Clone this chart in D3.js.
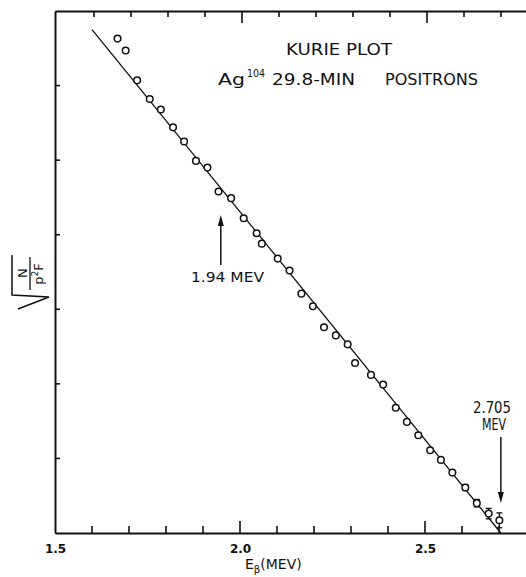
<!DOCTYPE html>
<html>
<head>
<meta charset="utf-8">
<script src="https://d3js.org/d3.v7.min.js"></script>
<style>
  body { margin: 0; background: #fff; }
  svg { display: block; }
  text { font-family: "DejaVu Sans", "Liberation Sans", sans-serif; fill: #111; }
  .frame path { stroke: #111; stroke-width: 2; }
  .frame line { stroke: #111; stroke-width: 1.6; }
  .frame text { font-size: 12px; font-weight: bold; }
  .pt { fill: #fff; stroke: #111; stroke-width: 1.5; }
</style>
</head>
<body>
<script>
// Kurie plot readings (E in MeV, sqrt(N/p^2F) in arbitrary units)
var energy = [1.669, 1.691, 1.722, 1.756, 1.786, 1.819, 1.849, 1.881, 1.912, 1.942,
              1.976, 2.010, 2.045, 2.059, 2.102, 2.134, 2.166, 2.197, 2.227, 2.259,
              2.291, 2.311, 2.354, 2.387, 2.421, 2.451, 2.482, 2.514, 2.543, 2.574,
              2.609, 2.640, 2.672, 2.701];
var kurie  = [6.63, 6.47, 6.07, 5.82, 5.68, 5.44, 5.25, 4.99, 4.90, 4.58,
              4.49, 4.22, 4.02, 3.88, 3.68, 3.52, 3.21, 3.04, 2.76, 2.65,
              2.53, 2.28, 2.12, 1.99, 1.68, 1.49, 1.31, 1.11, 0.98, 0.81,
              0.61, 0.40, 0.26, 0.17];
var errors = [0, 0, 0, 0, 0, 0, 0, 0, 0, 0,
              0, 0, 0, 0, 0, 0, 0, 0, 0, 0,
              0, 0, 0, 0, 0, 0, 0, 0, 0, 0,
              0.04, 0.05, 0.07, 0.1];
// straight line fit, ends at 2.705 MeV
var fitE = [1.60, 2.705];
var fitK = [6.75, 0];
var xTicks = d3.range(15, 28).map(function(d) { return d / 10; });
var xMajor = [1.5, 2.0, 2.5];
var yTicks = [1, 2, 3, 4, 5, 6];

var W = 526, H = 577;
var svg = d3.select("body").append("svg").attr("width", W).attr("height", H);

var x = d3.scaleLinear().domain([1.5, 2.78]).range([55, 528.6]);
var y = d3.scaleLinear().domain([0, 7]).range([533, 11]);

function isMajor(d) { return xMajor.some(function(m) { return Math.abs(m - d) < 1e-6; }); }

// frame lines (bottom, top, left) from the axes, no built-in ticks
svg.append("g").attr("class", "frame")
    .attr("transform", "translate(0," + y(0) + ")")
    .call(d3.axisBottom(x).tickValues(xMajor).tickSize(0).tickPadding(11)
      .tickFormat(function(d) { return d.toFixed(1); }));
svg.append("g").attr("class", "frame")
    .attr("transform", "translate(0," + y(7) + ")")
    .call(d3.axisTop(x).tickValues([]).tickSize(0));
svg.append("g").attr("class", "frame")
    .attr("transform", "translate(" + x(1.5) + ",0)")
    .call(d3.axisLeft(y).tickValues([]).tickSize(0));

// inward ticks
var tk = svg.append("g").attr("stroke", "#111").attr("stroke-width", 1.6);
tk.selectAll(".tb").data(xTicks.slice(1)).enter().append("line")
    .attr("x1", function(d) { return x(d); }).attr("x2", function(d) { return x(d); })
    .attr("y1", y(0)).attr("y2", function(d) { return y(0) - (isMajor(d) ? 12 : 7); });
tk.selectAll(".tt").data(xTicks.slice(1)).enter().append("line")
    .attr("x1", function(d) { return x(d) + 2; }).attr("x2", function(d) { return x(d) + 2; })
    .attr("y1", y(7)).attr("y2", function(d) { return y(7) + (isMajor(d) ? 12 : 6); });
tk.selectAll(".tl").data(yTicks).enter().append("line")
    .attr("x1", x(1.5)).attr("x2", x(1.5) + 5)
    .attr("y1", function(d) { return y(d); }).attr("y2", function(d) { return y(d); });

// fitted line
svg.append("line")
    .attr("x1", x(fitE[0])).attr("y1", y(fitK[0]))
    .attr("x2", x(fitE[1])).attr("y2", y(fitK[1]))
    .attr("stroke", "#111").attr("stroke-width", 1.3);

// error bars
var pts = energy.map(function(e, i) { return { e: e, k: kurie[i], err: errors[i] }; });
var eb = svg.append("g").selectAll("g").data(pts.filter(function(d) { return d.err > 0; }))
  .enter().append("g").attr("stroke", "#111").attr("stroke-width", 1.3);
eb.append("line")
    .attr("x1", function(d) { return x(d.e); }).attr("x2", function(d) { return x(d.e); })
    .attr("y1", function(d) { return y(d.k + d.err); }).attr("y2", function(d) { return y(d.k - d.err); });
eb.append("line")
    .attr("x1", function(d) { return x(d.e) - 3; }).attr("x2", function(d) { return x(d.e) + 3; })
    .attr("y1", function(d) { return y(d.k + d.err); }).attr("y2", function(d) { return y(d.k + d.err); });
eb.append("line")
    .attr("x1", function(d) { return x(d.e) - 3; }).attr("x2", function(d) { return x(d.e) + 3; })
    .attr("y1", function(d) { return y(d.k - d.err); }).attr("y2", function(d) { return y(d.k - d.err); });

// points
svg.append("g").selectAll("circle").data(pts).enter().append("circle")
    .attr("class", "pt")
    .attr("cx", function(d) { return x(d.e); })
    .attr("cy", function(d) { return y(d.k); })
    .attr("r", 3.3);

// arrows
function arrow(xv, yFrom, yTo) {
  var up = yTo < yFrom;
  svg.append("line").attr("x1", xv).attr("x2", xv).attr("y1", yFrom).attr("y2", up ? yTo + 8 : yTo - 8)
      .attr("stroke", "#111").attr("stroke-width", 1.5);
  var s = up ? 1 : -1;
  svg.append("path")
      .attr("d", "M" + xv + "," + yTo + "L" + (xv - 3) + "," + (yTo + s * 11) + "L" + (xv + 3) + "," + (yTo + s * 11) + "Z")
      .attr("fill", "#111");
}
arrow(x(1.94) + 3, 265, 215);
arrow(x(2.705), 437, 503);

// stretched lettering
function label(tx, ty, len, size, str, anchor) {
  return svg.append("text").attr("x", tx).attr("y", ty)
      .attr("textLength", len).attr("lengthAdjust", "spacingAndGlyphs")
      .attr("text-anchor", anchor || "start")
      .style("font-size", size + "px").text(str);
}
label(191, 282, 73, 14, "1.94 MEV");
label(473, 413, 38, 15.5, "2.705");
label(482, 430, 24, 15.5, "MEV");

// title
label(286, 55, 106, 16.5, "KURIE PLOT");
label(218, 85, 27, 16.5, "Ag");
label(247, 77, 18, 11, "104");
label(272, 85, 83, 16.5, "29.8-MIN");
label(385, 85, 93, 16.5, "POSITRONS");

// x label
var xl = svg.append("text").attr("x", 245).attr("y", 569).style("font-size", "14px");
xl.append("tspan").text("E");
xl.append("tspan").attr("dy", 4).style("font-size", "10px").text("\u03b2");
xl.append("tspan").attr("dy", -4).text("(MEV)");

// y label: sqrt(N / p^2 F), rotated
var yl = svg.append("g").attr("transform", "translate(30,283) rotate(-90)");
yl.append("path").attr("d", "M-26,-12L-14,19L-12,-18L28,-18")
    .attr("fill", "none").attr("stroke", "#111").attr("stroke-width", 1.5);
yl.append("line").attr("x1", -7).attr("x2", 26).attr("y1", 0).attr("y2", 0)
    .attr("stroke", "#111").attr("stroke-width", 1.3);
yl.append("text").attr("x", 10).attr("y", -3).attr("text-anchor", "middle")
    .style("font-size", "13px").text("N");
var den = yl.append("text").attr("x", 9).attr("y", 13).attr("text-anchor", "middle").style("font-size", "13px");
den.append("tspan").text("p");
den.append("tspan").attr("dy", -5).style("font-size", "9px").text("2");
den.append("tspan").attr("dy", 5).text("F");
</script>
</body>
</html>
